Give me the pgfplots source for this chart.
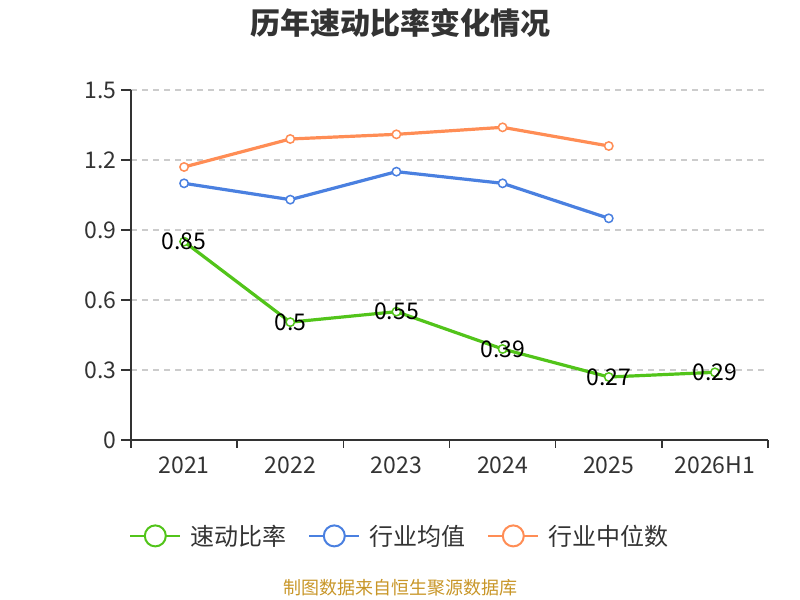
\documentclass[border=0pt]{standalone}
\usepackage{pgfplots}
\pgfplotsset{compat=1.18}
\usepackage{fontspec}
\setmainfont{Noto Sans CJK SC}
\definecolor{cgreen}{RGB}{82,196,26}
\definecolor{cblue}{RGB}{74,128,224}
\definecolor{corange}{RGB}{255,141,85}
\definecolor{ctext}{RGB}{51,51,51}
\definecolor{cgrid}{RGB}{204,204,204}
\definecolor{csrc}{RGB}{200,150,40}
\begin{document}
\begin{tikzpicture}[x=1bp,y=1bp]
\path[use as bounding box] (0,0) rectangle (800,600);
\node[font=\fontsize{30bp}{34bp}\selectfont\bfseries, text=ctext] at (400,577) {历年速动比率变化情况};
\node[font=\fontsize{18bp}{21bp}\selectfont, text=csrc] at (400,12) {制图数据来自恒生聚源数据库};
\begin{axis}[
  at={(131bp,160bp)}, anchor=south west,
  scale only axis, width=637bp, height=350bp,
  xmin=-0.5, xmax=5.5, ymin=0, ymax=1.5,
  axis lines=left, axis line style={-, draw=ctext, line width=1.5bp},
  xtick={0,...,5}, xticklabels={2021,2022,2023,2024,2025,2026H1},
  minor xtick={-0.5,0.5,1.5,2.5,3.5,4.5,5.5},
  major x tick style={draw=none},
  minor tick length=8bp,
  tick align=outside,
  ytick={0,0.3,0.6,0.9,1.2,1.5},
  yticklabels={0,0.3,0.6,0.9,1.2,1.5},
  major tick length=10bp,
  tick style={draw=ctext, line width=1.5bp},
  ymajorgrids, grid style={dashed, cgrid, line width=1.2bp, dash pattern=on 6bp off 5bp},
  ticklabel style={font=\fontsize{23bp}{26bp}\selectfont, text=ctext},
  yticklabel style={xshift=-1bp},
  xticklabel style={yshift=-3bp},
  clip=false,
  legend columns=3,
  legend style={at={(0.422,-0.274)}, anchor=center, draw=none, fill=none,
    font=\fontsize{24bp}{28bp}\selectfont, text=ctext,
    /tikz/every odd column/.append style={column sep=7bp},
    /tikz/every even column/.append style={column sep=20bp}},
  legend image code/.code={
    \draw[#1, line width=2bp] (0bp,0bp) -- (50bp,0bp);
    \draw[#1, line width=2bp, fill=white] (25bp,0bp) circle (10.5bp);
  },
]
\addplot[cgreen, line width=3.2bp, mark=*, mark size=4.2bp, mark options={fill=white, line width=1.5bp},
  point meta=explicit symbolic, nodes near coords, nodes near coords align=center,
  every node near coord/.append style={font=\fontsize{23bp}{26bp}\selectfont, text=black, anchor=center}]
  coordinates {(0,0.85)[0.85] (1,0.505)[0.5] (2,0.55)[0.55] (3,0.39)[0.39] (4,0.27)[0.27] (5,0.29)[0.29]};
\addlegendentry{速动比率}
\addplot[cblue, line width=3.2bp, mark=*, mark size=4.2bp, mark options={fill=white, line width=1.5bp}]
  coordinates {(0,1.10) (1,1.03) (2,1.15) (3,1.10) (4,0.95)};
\addlegendentry{行业均值}
\addplot[corange, line width=3.2bp, mark=*, mark size=4.2bp, mark options={fill=white, line width=1.5bp}]
  coordinates {(0,1.17) (1,1.29) (2,1.31) (3,1.34) (4,1.26)};
\addlegendentry{行业中位数}
\end{axis}
\end{tikzpicture}
\end{document}
